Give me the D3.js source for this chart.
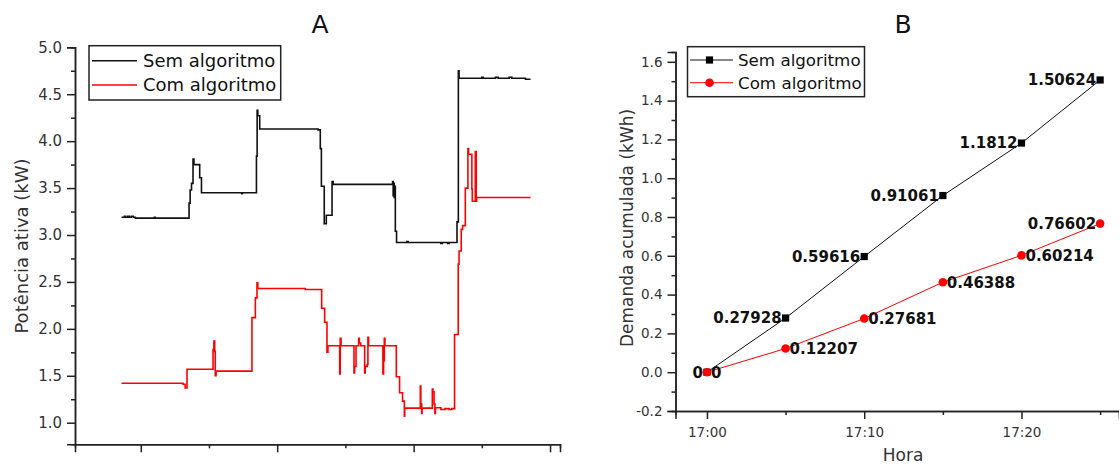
<!DOCTYPE html>
<html><head><meta charset="utf-8">
<script src="https://cdn.jsdelivr.net/npm/d3@7"></script>
<style>
html,body{margin:0;padding:0;background:#fff;}
svg{display:block;font-family:"DejaVu Sans",sans-serif;}
</style></head>
<body>
<svg id="chart" width="1119" height="466"></svg>
<script>
// ---------- Panel A data: step series [t, kW] ----------
const seriesNames = ["Sem algoritmo", "Com algoritmo"];
const semAlgoritmoA = [
 [0.859,3.19],[0.880,3.20],[0.890,3.19],[0.905,3.20],[0.915,3.19],[0.930,3.20],[0.945,3.19],[0.960,3.18],
 [1.100,3.19],[1.105,3.18],[1.354,3.34],[1.362,3.48],[1.372,3.55],[1.383,3.81],[1.390,3.75],[1.432,3.61],
 [1.445,3.45],[1.740,3.44],[1.745,3.45],[1.848,3.84],[1.853,4.33],[1.858,4.27],[1.872,4.13],[2.300,4.12],
 [2.316,3.92],[2.324,3.52],[2.345,3.12],[2.360,3.21],[2.402,3.57],[2.410,3.54],[2.846,3.57],[2.850,3.42],
 [2.855,3.55],[2.858,3.40],[2.862,3.52],[2.866,3.04],[2.875,2.92],[2.950,2.93],[2.960,2.92],[3.200,2.91],
 [3.210,2.92],[3.250,2.91],[3.260,2.92],[3.318,3.14],[3.328,4.75],[3.333,4.67],[3.500,4.68],[3.510,4.67],
 [3.600,4.68],[3.620,4.67],[3.700,4.68],[3.720,4.67],[3.820,4.66],[3.857,4.66]
];
const comAlgoritmoA = [
 [0.859,1.42],[1.310,1.41],[1.325,1.37],[1.339,1.57],[1.530,1.78],[1.536,1.87],[1.542,1.76],[1.546,1.50],
 [1.552,1.55],[1.815,2.12],[1.840,2.33],[1.852,2.49],[1.858,2.43],[2.205,2.42],[2.230,2.42],[2.326,2.22],
 [2.348,2.07],[2.365,1.75],[2.372,1.82],[2.458,1.52],[2.462,1.90],[2.468,1.82],[2.563,1.53],[2.567,1.60],
 [2.578,1.82],[2.597,1.90],[2.602,1.85],[2.612,1.82],[2.641,1.53],[2.645,1.60],[2.660,1.62],[2.665,1.91],
 [2.670,1.82],[2.775,1.52],[2.780,1.66],[2.785,1.90],[2.790,1.82],[2.873,1.49],[2.897,1.32],[2.919,1.23],
 [2.932,1.07],[2.935,1.155],[3.049,1.39],[3.053,1.20],[3.059,1.10],[3.062,1.155],[3.137,1.36],[3.142,1.33],
 [3.150,1.20],[3.156,1.10],[3.160,1.16],[3.200,1.14],[3.230,1.15],[3.260,1.14],[3.280,1.15],[3.300,1.94],
 [3.327,2.69],[3.333,2.83],[3.349,3.06],[3.359,3.10],[3.379,3.50],[3.398,3.92],[3.403,3.86],[3.427,3.49],
 [3.430,3.36],[3.452,3.89],[3.459,3.36],[3.462,3.40],[3.857,3.40]
];
const yTicksA = [1.0,1.5,2.0,2.5,3.0,3.5,4.0,4.5,5.0];
const yMinorA = [1.25,1.75,2.25,2.75,3.25,3.75,4.25,4.75];
const xTicksA = [1,2,3,4];
const xMinorA = [1.5,2.5,3.5];

// ---------- Panel B data ----------
const horas = ["17:00","17:05","17:10","17:15","17:20","17:25"];
const semAlgoritmoB = [0, 0.27928, 0.59616, 0.91061, 1.1812, 1.50624];
const comAlgoritmoB = [0, 0.12207, 0.27681, 0.46388, 0.60214, 0.76602];
const semLabels = ["0","0.27928","0.59616","0.91061","1.1812","1.50624"];
const comLabels = ["0","0.12207","0.27681","0.46388","0.60214","0.76602"];
const comLabelSide = ["right","right","right","right","right","left"];
const yTicksB = [-0.2,0.0,0.2,0.4,0.6,0.8,1.0,1.2,1.4,1.6];
const yMinorB = [-0.1,0.1,0.3,0.5,0.7,0.9,1.1,1.3,1.5];
const xTicksB = ["17:00","17:10","17:20"];
const xMinorB = ["17:05","17:15","17:25"];

const svg = d3.select("#chart");
const parseT = d3.timeParse("%H:%M");
const AX = "#222", TXT = "#333";

function styleAxis(g, fs){
  g.select(".domain").attr("stroke", AX).attr("stroke-width", 1.5);
  g.selectAll(".tick line").attr("stroke", AX).attr("stroke-width", 1.5);
  g.selectAll(".tick text").attr("fill", TXT).style("font-size", fs + "px").style("font-family", "DejaVu Sans");
}

// ================= Panel A =================
const xA = d3.scaleLinear().domain([0.518, 4.073]).range([75, 560]);
const yA = d3.scaleLinear().domain([0.77, 5.0]).range([444.3, 47.3]);

const gA = svg.append("g");
gA.append("g").attr("transform","translate(0,444.3)")
  .call(d3.axisBottom(xA).tickValues(xMinorA).tickSize(4).tickFormat(""))
  .call(g=>styleAxis(g,14));
gA.append("g").attr("transform","translate(0,444.3)")
  .call(d3.axisBottom(xA).tickValues(xTicksA).tickSize(8).tickFormat(""))
  .call(g=>styleAxis(g,14));
gA.append("g").attr("transform","translate(75,0)")
  .call(d3.axisLeft(yA).tickValues(yMinorA).tickSize(4).tickFormat(""))
  .call(g=>styleAxis(g,15));
gA.append("g").attr("transform","translate(75,0)")
  .call(d3.axisLeft(yA).tickValues(yTicksA).tickSize(8).tickPadding(5).tickFormat(d3.format(".1f")))
  .call(g=>styleAxis(g,15));

const lineA = d3.line().x(d=>xA(d[0])).y(d=>yA(d[1])).curve(d3.curveStepAfter);
gA.append("path").datum(semAlgoritmoA).attr("d", lineA)
  .attr("fill","none").attr("stroke","#111").attr("stroke-width",1.6);
gA.append("path").datum(comAlgoritmoA).attr("d", lineA)
  .attr("fill","none").attr("stroke","#ff0000").attr("stroke-width",1.6);

gA.append("text").attr("x",320).attr("y",33).attr("text-anchor","middle")
  .style("font-size","25px").attr("fill","#111").text("A");
gA.append("text").attr("transform","translate(28,246) rotate(-90)").attr("text-anchor","middle")
  .style("font-size","18px").attr("fill",TXT).text("Potência ativa (kW)");

// legend A
const legA = gA.append("g");
legA.append("rect").attr("x",89).attr("y",45.7).attr("width",191.7).attr("height",54.3)
  .attr("fill","#fff").attr("stroke",AX).attr("stroke-width",1.5);
[["#111",60.7],["#ff0000",85]].forEach((c,i)=>{
  legA.append("line").attr("x1",92).attr("x2",137).attr("y1",c[1]).attr("y2",c[1])
    .attr("stroke",c[0]).attr("stroke-width",1.6);
  legA.append("text").attr("x",143).attr("y",c[1]).attr("dy","0.36em")
    .style("font-size","18px").attr("fill","#111").text(seriesNames[i]);
});

// ================= Panel B =================
const tB = horas.map(parseT);
const xB = d3.scaleTime().domain([parseT("16:58"), new Date(parseT("17:26").getTime()+12000)]).range([675.5,1119]);
const yB = d3.scaleLinear().domain([-0.2, 1.65]).range([411, 52.1]);

const gB = svg.append("g");
gB.append("g").attr("transform","translate(0,411)")
  .call(d3.axisBottom(xB).tickValues(xMinorB.map(parseT)).tickSize(4).tickFormat(""))
  .call(g=>styleAxis(g,13.5));
gB.append("g").attr("transform","translate(0,411)")
  .call(d3.axisBottom(xB).tickValues(xTicksB.map(parseT)).tickSize(8).tickPadding(8).tickFormat(d3.timeFormat("%H:%M")))
  .call(g=>styleAxis(g,13.5));
gB.append("g").attr("transform","translate(675.5,0)")
  .call(d3.axisLeft(yB).tickValues(yMinorB).tickSize(4).tickFormat(""))
  .call(g=>styleAxis(g,13.5));
gB.append("g").attr("transform","translate(675.5,0)")
  .call(d3.axisLeft(yB).tickValues(yTicksB).tickSize(8).tickPadding(5).tickFormat(d3.format(".1f")))
  .call(g=>styleAxis(g,13.5));
gB.selectAll(".tick text").filter(function(){return this.textContent==="\u22120.2";}).text("-0.2");

const lineB = d3.line().x((d,i)=>xB(tB[i])).y(d=>yB(d));
gB.append("path").datum(semAlgoritmoB).attr("d",lineB).attr("fill","none").attr("stroke","#111").attr("stroke-width",1);
gB.append("path").datum(comAlgoritmoB).attr("d",lineB).attr("fill","none").attr("stroke","#ff0000").attr("stroke-width",1);

gB.selectAll(".sq").data(semAlgoritmoB).join("rect")
  .attr("x",(d,i)=>xB(tB[i])-3.6).attr("y",d=>yB(d)-3.6).attr("width",7.2).attr("height",7.2).attr("fill","#000");
gB.selectAll(".ci").data(comAlgoritmoB).join("circle")
  .attr("cx",(d,i)=>xB(tB[i])).attr("cy",d=>yB(d)).attr("r",4.3).attr("fill","#ff0000");

gB.selectAll(".lblS").data(semAlgoritmoB).join("text")
  .attr("x",(d,i)=>xB(tB[i])-4).attr("y",d=>yB(d)).attr("dy","0.36em").attr("text-anchor","end")
  .style("font-size","15px").style("font-weight","bold").attr("fill","#111")
  .text((d,i)=>semLabels[i]);
gB.selectAll(".lblC").data(comAlgoritmoB).join("text")
  .attr("x",(d,i)=>xB(tB[i]) + (comLabelSide[i]==="left"?-4:4)).attr("y",d=>yB(d)).attr("dy","0.36em")
  .attr("text-anchor",(d,i)=>comLabelSide[i]==="left"?"end":"start")
  .style("font-size","15px").style("font-weight","bold").attr("fill","#111")
  .text((d,i)=>comLabels[i]);

gB.append("text").attr("x",903).attr("y",33).attr("text-anchor","middle")
  .style("font-size","25px").attr("fill","#111").text("B");
gB.append("text").attr("x",903).attr("y",461).attr("text-anchor","middle")
  .style("font-size","17px").attr("fill",TXT).text("Hora");
gB.append("text").attr("transform","translate(633,228) rotate(-90)").attr("text-anchor","middle")
  .style("font-size","17px").attr("fill",TXT).text("Demanda acumulada (kWh)");

const legB = gB.append("g");
legB.append("rect").attr("x",687.5).attr("y",46.7).attr("width",177).attr("height",50)
  .attr("fill","#fff").attr("stroke",AX).attr("stroke-width",1.5);
legB.append("line").attr("x1",690).attr("x2",733).attr("y1",60).attr("y2",60).attr("stroke","#111").attr("stroke-width",1);
legB.append("rect").attr("x",709.5-3.6).attr("y",60-3.6).attr("width",7.2).attr("height",7.2).attr("fill","#000");
legB.append("line").attr("x1",690).attr("x2",733).attr("y1",82.7).attr("y2",82.7).attr("stroke","#ff0000").attr("stroke-width",1);
legB.append("circle").attr("cx",709.5).attr("cy",82.7).attr("r",4.3).attr("fill","#ff0000");
[60,82.7].forEach((y,i)=>{
  legB.append("text").attr("x",738).attr("y",y).attr("dy","0.36em")
    .style("font-size","16.7px").attr("fill","#111").text(seriesNames[i]);
});
</script>
</body></html>
